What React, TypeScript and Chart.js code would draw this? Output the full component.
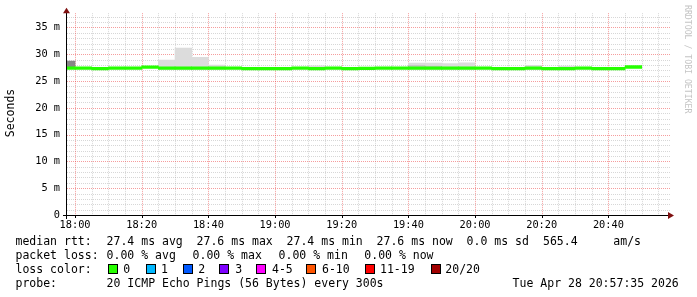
import React, { useEffect, useRef } from 'react';
import { Chart, registerables } from 'chart.js';

Chart.register(...registerables);

// ---- data ----
const slotStarts = [
  '17:55', '18:00', '18:05', '18:10', '18:15', '18:20', '18:25', '18:30', '18:35', '18:40',
  '18:45', '18:50', '18:55', '19:00', '19:05', '19:10', '19:15', '19:20', '19:25', '19:30',
  '19:35', '19:40', '19:45', '19:50', '19:55', '20:00', '20:05', '20:10', '20:15', '20:20',
  '20:25', '20:30', '20:35', '20:40', '20:45',
];
// median rtt per 5-minute slot (ms)
const medianMs = [
  27.40, 27.40, 27.33, 27.40, 27.40, 27.60, 27.40, 27.40, 27.40, 27.40,
  27.40, 27.33, 27.33, 27.33, 27.40, 27.33, 27.40, 27.33, 27.38, 27.40,
  27.40, 27.42, 27.42, 27.40, 27.40, 27.42, 27.33, 27.33, 27.40, 27.33,
  27.33, 27.42, 27.33, 27.33, 27.62,
];
// smoke ranges [low, high] in ms (null = no visible smoke)
const smokeLight: ([number, number] | null)[] = [
  null, null, null, null, null, null, [27.2, 28.9], [27.2, 31.15], [27.2, 29.45], [27.2, 28.0],
  null, null, null, null, null, [27.2, 27.85], null, null, null, null,
  null, [27.2, 28.35], [27.2, 28.35], [27.2, 28.25], [27.2, 28.4], null, null, null, [27.2, 27.95], null,
  [27.2, 27.8], null, null, null, null,
];
const smokeMid: ([number, number] | null)[] = [
  null, null, null, null, null, null, null, null, null, null,
  null, null, null, null, null, null, null, null, null, null,
  null, [27.3, 27.95], [27.3, 27.8], null, null, null, null, null, null, null,
  null, null, null, null, null,
];
const smokeDark: ([number, number] | null)[] = [
  [27.3, 28.75], null, null, null, null, null, null, null, null, null,
  null, null, null, null, null, null, null, null, null, null,
  null, null, null, null, null, null, null, null, null, null,
  null, null, null, null, null,
];

const rangeStart = '17:57:35';
const rangeEnd = '20:57:35';
const yMaxMs = 37.67;
const yTickValues = Array.from({ length: 38 }, (_, i) => i);
const xTickMinutes = Array.from({ length: 36 }, (_, i) => i * 5);

const rttLine = ['median rtt:', '27.4 ms avg', '27.6 ms max', '27.4 ms min', '27.6 ms now', '0.0 ms sd', '565.4', 'am/s'];
const lossLine = ['packet loss:', '0.00 % avg', '0.00 % max', '0.00 % min', '0.00 % now'];
const lossLabels = ['0', '1', '2', '3', '4-5', '6-10', '11-19', '20/20'];
const lossColors = ['#26ff00', '#00b8ff', '#0059ff', '#7e00ff', '#ff00ff', '#ff5500', '#ff0000', '#a10000'];
const probeText = '20 ICMP Echo Pings (56 Bytes) every 300s';
const stampText = 'Tue Apr 28 20:57:35 2026';
const yTitle = 'Seconds';
const watermark = 'RRDTOOL / TOBI OETIKER';

// ---- helpers ----
const toMin = (t: string) => {
  const [h, m, s = '0'] = t.split(':');
  return (Number(h) - 18) * 60 + Number(m) + Number(s) / 60;
};
const fmtMin = (v: number) => {
  const tot = 18 * 60 + v;
  const h = Math.floor(tot / 60);
  const m = Math.round(tot - h * 60);
  return `${h}:${String(m).padStart(2, '0')}`;
};
const centers = slotStarts.map((t) => toMin(t) + 2.5);
const rangeData = (arr: ([number, number] | null)[]) =>
  arr.map((r, i) => (r ? { x: centers[i], y: r } : null)).filter((d) => d !== null) as any[];

const MONO = '"DejaVu Sans Mono", monospace';
const MINOR_GRID = 'rgba(150,150,150,0.38)';
const MAJOR_GRID = 'rgba(235,60,60,0.5)';

const gridPlugin = {
  id: 'rrdgrid',
  beforeDatasetsDraw(chart: any) {
    const ctx: CanvasRenderingContext2D = chart.ctx;
    const { left, right, top, bottom } = chart.chartArea;
    const xs = chart.scales.x;
    const ys = chart.scales.y;
    ctx.save();
    ctx.lineWidth = 1;
    ctx.setLineDash([1, 1]);
    const draw = (major: boolean) => {
      ctx.strokeStyle = major ? MAJOR_GRID : MINOR_GRID;
      ctx.beginPath();
      xTickMinutes.forEach((v) => {
        if ((v % 20 === 0) !== major) return;
        const px = Math.round(xs.getPixelForValue(v)) + 0.5;
        ctx.moveTo(px, top);
        ctx.lineTo(px, bottom);
      });
      yTickValues.forEach((v) => {
        if (v === 0 || (v % 5 === 0) !== major) return;
        const py = Math.round(ys.getPixelForValue(v)) + 0.5;
        ctx.moveTo(left, py);
        ctx.lineTo(right + 3, py);
      });
      ctx.stroke();
    };
    draw(false);
    draw(true);
    ctx.restore();
  },
};

const decor = {
  id: 'decor',
  afterDraw(chart: any) {
    const ctx: CanvasRenderingContext2D = chart.ctx;
    const { left, right, top, bottom } = chart.chartArea;
    const xs = chart.scales.x;
    ctx.save();
    // axes
    ctx.fillStyle = '#000';
    ctx.fillRect(left - 4, bottom, right - left + 5, 1);
    ctx.fillRect(left - 1, top - 1, 1, bottom - top + 5);
    // x major ticks
    xTickMinutes.forEach((v) => {
      if (v % 20 === 0) {
        const px = Math.round(xs.getPixelForValue(v));
        ctx.fillRect(px, bottom + 1, 1, 2);
      }
    });
    // arrows
    ctx.fillStyle = '#7f1010';
    ctx.beginPath();
    ctx.moveTo(left - 4, top);
    ctx.lineTo(left + 3, top);
    ctx.lineTo(left - 0.5, top - 5.5);
    ctx.closePath();
    ctx.fill();
    ctx.beginPath();
    ctx.moveTo(right + 1, bottom - 3);
    ctx.lineTo(right + 1, bottom + 4);
    ctx.lineTo(right + 7, bottom + 0.5);
    ctx.closePath();
    ctx.fill();

    // y title
    ctx.fillStyle = '#000';
    ctx.font = `11.5px ${MONO}`;
    ctx.save();
    ctx.translate(14.3, 113);
    ctx.rotate(-Math.PI / 2);
    ctx.textAlign = 'center';
    ctx.textBaseline = 'alphabetic';
    ctx.fillText(yTitle, 0, 0);
    ctx.restore();

    // watermark
    ctx.save();
    ctx.fillStyle = '#c4c4c4';
    ctx.font = `8.2px ${MONO}`;
    ctx.translate(685, 5);
    ctx.rotate(Math.PI / 2);
    ctx.textAlign = 'left';
    ctx.fillText(watermark, 0, 0);
    ctx.restore();

    // legend
    ctx.fillStyle = '#000';
    ctx.font = `11.5px ${MONO}`;
    ctx.textAlign = 'left';
    ctx.textBaseline = 'alphabetic';
    const rttX = [15.5, 106.6, 196.6, 286.6, 376.6, 466.6, 543.0, 613.3];
    rttLine.forEach((t, i) => ctx.fillText(t, rttX[i], 245));
    const lossX = [15.5, 106.6, 192.6, 278.6, 364.3];
    lossLine.forEach((t, i) => ctx.fillText(t, lossX[i], 259));
    ctx.fillText('loss color:', 15.5, 273);
    const boxX = [108, 146, 183, 219, 256, 306, 365, 431];
    const labX = [123.3, 161, 198.3, 235.3, 272, 322, 380, 445.3];
    lossLabels.forEach((t, i) => {
      ctx.fillStyle = '#000';
      ctx.fillRect(boxX[i], 264, 10, 10);
      ctx.fillStyle = lossColors[i];
      ctx.fillRect(boxX[i] + 1, 265, 8, 8);
      ctx.fillStyle = '#000';
      ctx.fillText(t, labX[i], 273);
    });
    ctx.fillText('probe:', 15.5, 287);
    ctx.fillText(probeText, 106.6, 287);
    ctx.fillText(stampText, 512.6, 287);
    ctx.restore();
  },
};

export default function App() {
  const ref = useRef<HTMLCanvasElement | null>(null);
  useEffect(() => {
    if (!ref.current) return;
    const chart = new Chart(ref.current, {
      type: 'bar',
      data: {
        datasets: [
          {
            label: 'median',
            data: medianMs.map((v, i) => ({ x: centers[i], y: [v - 0.25, v + 0.25] })) as any,
            backgroundColor: '#26ff00',
            order: 0,
          },
          { label: 'smoke dark', data: rangeData(smokeDark), backgroundColor: '#878787', order: 1 },
          { label: 'smoke mid', data: rangeData(smokeMid), backgroundColor: '#c6c6c6', order: 2 },
          { label: 'smoke light', data: rangeData(smokeLight), backgroundColor: '#dcdcdc', order: 3 },
        ],
      },
      options: {
        responsive: false,
        animation: false,
        events: [],
        layout: { padding: { left: 0, right: 30, top: 13, bottom: 0 } },
        datasets: {
          bar: { barPercentage: 1, categoryPercentage: 1, grouped: false, borderWidth: 0 } as any,
        },
        plugins: {
          legend: { display: false },
          tooltip: { enabled: false },
          title: { display: false },
        },
        scales: {
          x: {
            type: 'linear',
            min: toMin(rangeStart),
            max: toMin(rangeEnd),
            offset: false,
            grid: { display: false, offset: false, drawTicks: false } as any,
            border: { display: false },
            ticks: {
              autoSkip: false,
              maxRotation: 0,
              padding: 4,
              color: '#000',
              font: { family: MONO, size: 10.3 },
              callback: (v: any) => (Number(v) % 20 === 0 ? fmtMin(Number(v)) : ''),
            },
            afterBuildTicks: (s: any) => {
              s.ticks = xTickMinutes.map((v) => ({ value: v }));
            },
            afterFit: (s: any) => {
              s.height = 82;
            },
          },
          y: {
            type: 'linear',
            min: 0,
            max: yMaxMs,
            grid: { display: false, drawTicks: false },
            border: { display: false },
            ticks: {
              autoSkip: false,
              padding: 7,
              color: '#000',
              font: { family: MONO, size: 10.3 },
              callback: (v: any) => {
                const n = Number(v);
                if (n % 5 !== 0) return '';
                return n === 0 ? '0' : `${n} m`;
              },
            },
            afterBuildTicks: (s: any) => {
              s.ticks = yTickValues.map((v) => ({ value: v }));
            },
            afterFit: (s: any) => {
              s.width = 67;
            },
          },
        },
      },
      plugins: [gridPlugin, decor],
    });
    return () => chart.destroy();
  }, []);
  return (
    <div style={{ position: 'fixed', left: 0, top: 0, width: 697, height: 297, background: '#fff' }}>
      <canvas ref={ref} width={697} height={297} style={{ display: 'block' }} />
    </div>
  );
}
